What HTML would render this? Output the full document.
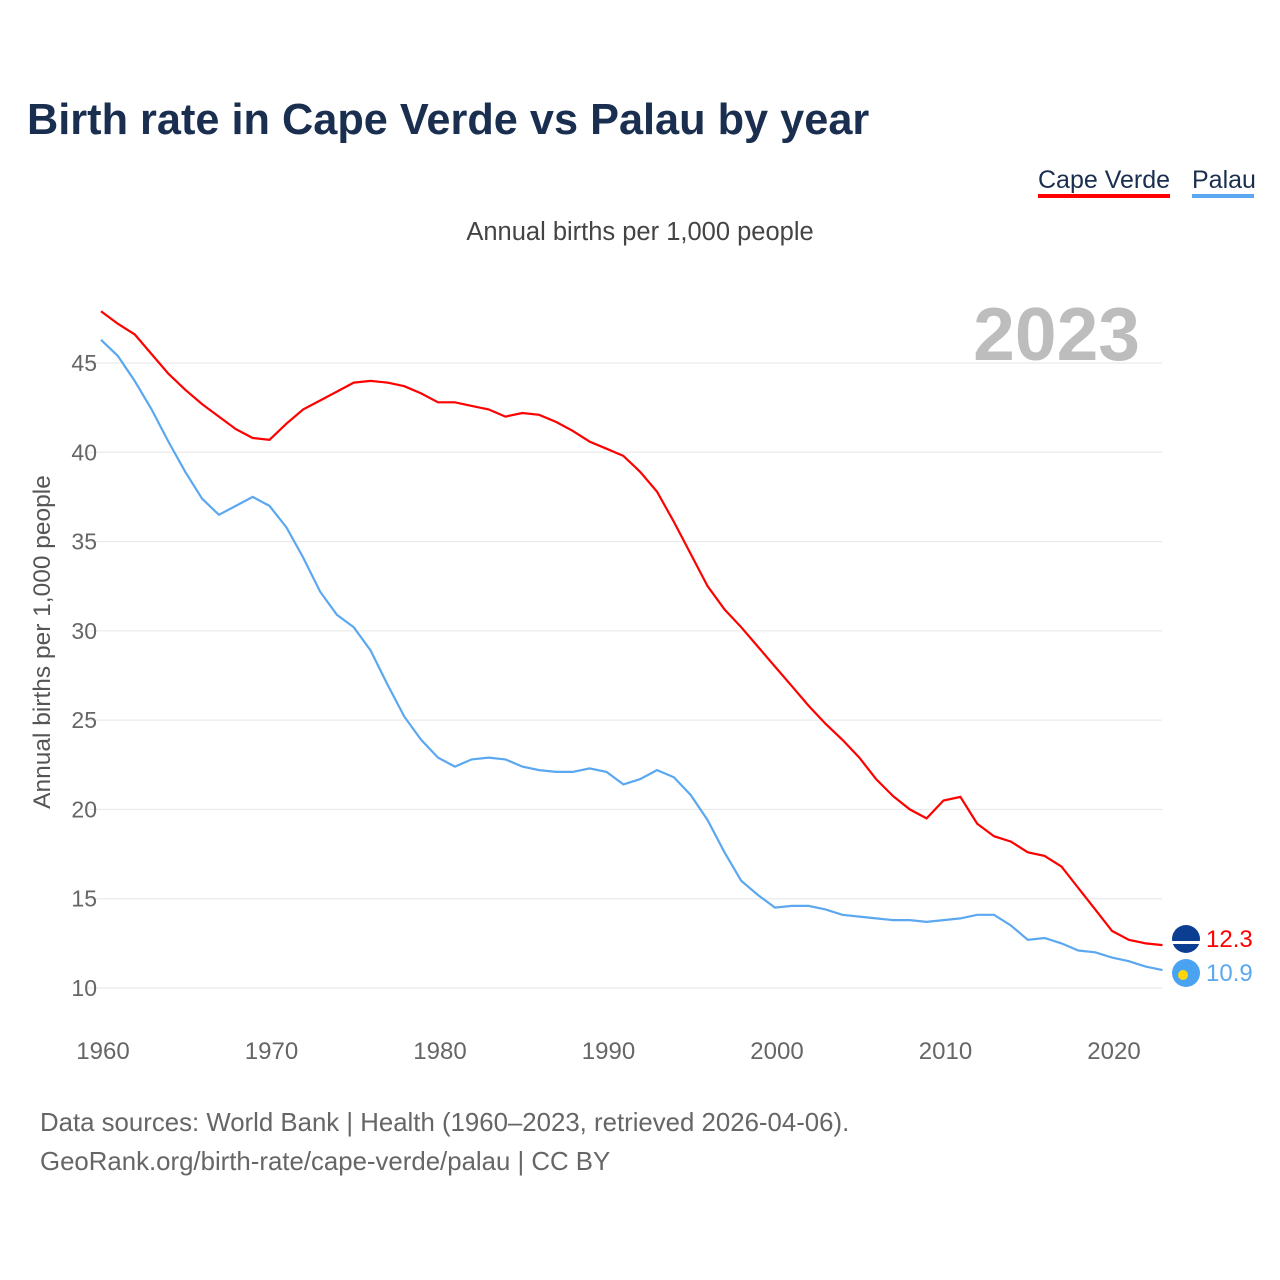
<!DOCTYPE html>
<html><head><meta charset="utf-8">
<style>
body{margin:0;background:#fff;font-family:"Liberation Sans",sans-serif;}
#wrap{position:relative;width:1280px;height:1280px;overflow:hidden;}
</style></head>
<body>
<div id="wrap">
<svg id="chart" width="1280" height="1280">
<text x="27" y="134" font-size="43.3" font-weight="bold" fill="#1a2e4f" font-family="Liberation Sans, sans-serif">Birth rate in Cape Verde vs Palau by year</text>
<g>
<text x="1038" y="188" font-size="25" fill="#1a2e4f">Cape Verde</text>
<rect x="1038" y="194" width="132" height="4" fill="#ff0000"/>
</g>
<g>
<text x="1192" y="188" font-size="25" fill="#1a2e4f">Palau</text>
<rect x="1192" y="194" width="62" height="4" fill="#5ba8f0"/>
</g>
<text x="640" y="240" font-size="25.5" fill="#444" text-anchor="middle">Annual births per 1,000 people</text>
<text x="1140" y="360" font-size="75" font-weight="bold" fill="#bdbdbd" text-anchor="end">2023</text>
<text transform="translate(50,642) rotate(-90)" font-size="24.5" fill="#555" text-anchor="middle">Annual births per 1,000 people</text>
<g id="grid"></g><g id="yt"></g><g id="xt"></g><g id="lines"></g><g id="ends"></g>
<text x="40" y="1131" font-size="25.8" fill="#666">Data sources: World Bank | Health (1960–2023, retrieved 2026-04-06).</text>
<text x="40" y="1170" font-size="25.8" fill="#666">GeoRank.org/birth-rate/cape-verde/palau | CC BY</text>
</svg>
</div>
<script>
const years=[];for(let y=1960;y<=2023;y++)years.push(y);
const capeVerde=[47.9,47.2,46.6,45.5,44.4,43.5,42.7,42.0,41.3,40.8,40.7,41.6,42.4,42.9,43.4,43.9,44.0,43.9,43.7,43.3,42.8,42.8,42.6,42.4,42.0,42.2,42.1,41.7,41.2,40.6,40.2,39.8,38.9,37.8,36.1,34.3,32.5,31.2,30.2,29.1,28.0,26.9,25.8,24.8,23.9,22.9,21.7,20.75,20.0,19.5,20.5,20.7,19.2,18.5,18.2,17.6,17.4,16.8,15.6,14.4,13.2,12.7,12.5,12.4];
const palau=[46.3,45.4,44.0,42.4,40.6,38.9,37.4,36.5,37.0,37.5,37.0,35.8,34.1,32.2,30.9,30.2,28.9,27.0,25.2,23.9,22.9,22.4,22.8,22.9,22.8,22.4,22.2,22.1,22.1,22.3,22.1,21.4,21.7,22.2,21.8,20.8,19.4,17.6,16.0,15.2,14.5,14.6,14.6,14.4,14.1,14.0,13.9,13.8,13.8,13.7,13.8,13.9,14.1,14.1,13.5,12.7,12.8,12.5,12.1,12.0,11.7,11.5,11.2,11.0];
const yTicks=[10,15,20,25,30,35,40,45];
const xTicks=[1960,1970,1980,1990,2000,2010,2020];
const endLabels=["12.3","10.9"];
const X=y=>101+(y-1960)*(1112-101)/60;
const Y=v=>988-(v-10)*(988-363)/35;
const NS="http://www.w3.org/2000/svg";
function mk(t,a,p){const e=document.createElementNS(NS,t);for(const k in a)e.setAttribute(k,a[k]);p.appendChild(e);return e;}
const grid=document.getElementById('grid'),yt=document.getElementById('yt'),xt=document.getElementById('xt'),lines=document.getElementById('lines'),ends=document.getElementById('ends');
yTicks.forEach(v=>{
 const l=mk('line',{x1:88,x2:1162,y1:Y(v),y2:Y(v),stroke:'#e6e6e6','stroke-width':1},grid);
 
 
 const t=mk('text',{x:97,y:Y(v)+8,'font-size':23,fill:'#666','text-anchor':'end'},yt);t.textContent=v;
 
 
});
xTicks.forEach(v=>{
 const t=mk('text',{x:X(v)+2,y:1059,'font-size':24,fill:'#666','text-anchor':'middle'},xt);t.textContent=v;
 
 
});
function line(arr,col,name){
 const p=mk('path',{d:arr.map((v,i)=>(i?'L':'M')+X(years[i]).toFixed(1)+','+Y(v).toFixed(1)).join(''),fill:'none',stroke:col,'stroke-width':2.2},lines);
 
 
}
line(capeVerde,'#ff0000','line-cape-verde');
line(palau,'#5ba8f0','line-palau');
[[capeVerde,'#ff0000','#0b3d91',939],[palau,'#5ba8f0','#4aa3f0',973]].forEach((s,i)=>{
 const c=mk('circle',{cx:1186,cy:s[3],r:14,fill:s[2]},ends);
 
 
 if(i==1){const d=mk('circle',{cx:1183,cy:s[3]+2,r:5,fill:'#ffd60a'},ends);}
 else{const r=mk('rect',{x:1172,y:s[3]+2,width:28,height:3,fill:'#fff'},ends);}
 const t=mk('text',{x:1206,y:s[3]+8,'font-size':24,fill:s[1]},ends);t.textContent=endLabels[i];
 
 
});
</script>
</body></html>
